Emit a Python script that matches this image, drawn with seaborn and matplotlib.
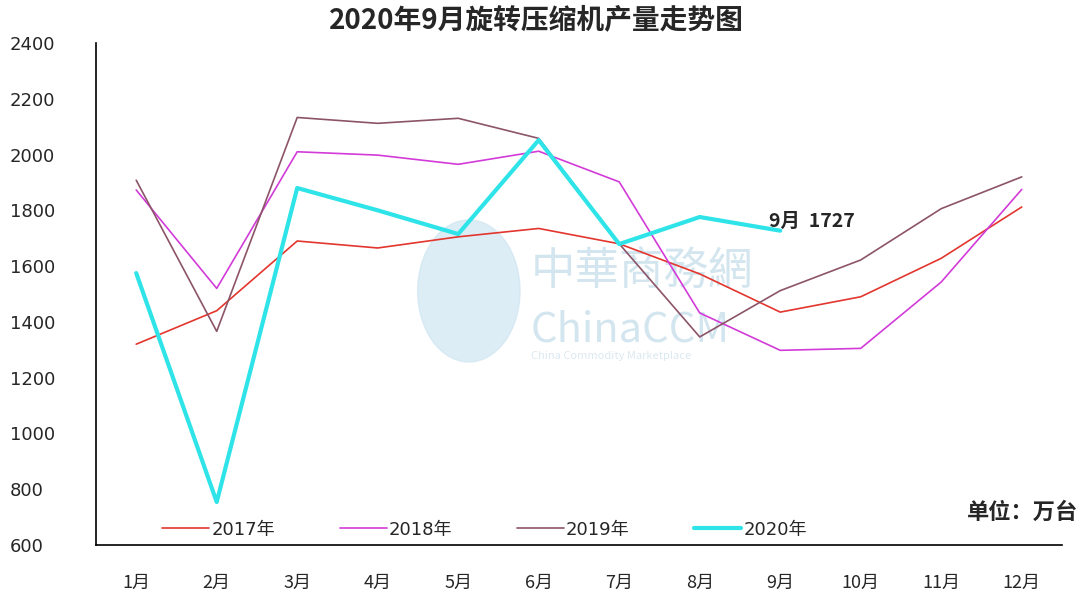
import pandas as pd
import matplotlib
matplotlib.use("Agg")
import matplotlib.pyplot as plt
from matplotlib.patches import Ellipse
import seaborn as sns

months = ["1月", "2月", "3月", "4月", "5月", "6月", "7月", "8月", "9月", "10月", "11月", "12月"]
y2017 = [1320, 1440, 1690, 1665, 1705, 1735, 1680, 1572, 1435, 1490, 1628, 1812]
y2018 = [1873, 1520, 2010, 1998, 1965, 2012, 1902, 1432, 1298, 1305, 1543, 1875]
y2019 = [1908, 1366, 2133, 2112, 2130, 2058, 1680, 1346, 1512, 1622, 1806, 1920]
y2020 = [1575, 754, 1880, 1800, 1715, 2052, 1679, 1776, 1727]
series_names = ["2017年", "2018年", "2019年", "2020年"]
colors = ["#E2362E", "#D23BD8", "#8C5468", "#2FE4E8"]
widths = [1.2, 1.2, 1.2, 3.0]

sns.set_style("white")
mixed = ['DejaVu Sans', 'Noto Sans CJK SC']
plt.rcParams['font.family'] = ['Noto Sans CJK SC', 'DejaVu Sans']

fig = plt.figure(figsize=(10.83, 5.99), dpi=100)
ax = fig.add_axes([0.0886, 0.0902, 0.892, 0.838])

# faint watermark
ax.add_patch(Ellipse((0.386, 0.506), 0.106, 0.283, transform=ax.transAxes,
                     color="#cfe6f2", alpha=0.7, zorder=0))
ax.text(0.45, 0.52, "中華商務網", transform=ax.transAxes, fontsize=32,
        color="#d3e5ee", zorder=0)
ax.text(0.45, 0.405, "ChinaCCM", transform=ax.transAxes, fontsize=30,
        color="#d3e5ee", zorder=0)
ax.text(0.45, 0.37, "China Commodity Marketplace", transform=ax.transAxes, fontsize=8,
        color="#dbe9f0", zorder=0)

all_series = [y2017, y2018, y2019, y2020]
for name, vals, c, lw in zip(series_names, all_series, colors, widths):
    df = pd.DataFrame({"x": list(range(len(vals))), "v": vals})
    sns.lineplot(data=df, x="x", y="v", ax=ax, color=c, linewidth=lw, label=name, zorder=3)

ax.set_xlim(-0.5, 11.5)
ax.set_ylim(600, 2400)
ax.set_yticks(range(600, 2401, 200))
ax.set_xticks(range(12))
ax.set_xticklabels(months)
ax.set_xticks([i + 0.5 for i in range(-1, 12)], minor=True)
ax.tick_params(axis="x", which="major", length=0, pad=21, labelsize=13)
ax.tick_params(axis="x", which="minor", direction="in", length=5, color="black")
ax.tick_params(axis="y", direction="in", length=5, labelsize=13, pad=62, color="black")
for lab in ax.get_yticklabels():
    lab.set_horizontalalignment("left")
    lab.set_family(mixed)
ax.set_xlabel("")
ax.set_ylabel("")
for side in ["top", "right"]:
    ax.spines[side].set_visible(False)
for side in ["left", "bottom"]:
    ax.spines[side].set_color("black")
    ax.spines[side].set_linewidth(1.2)

leg = ax.legend(loc="lower left", bbox_to_anchor=(0.052, -0.02), ncol=4, frameon=False,
                prop={"family": mixed, "size": 13}, handlelength=2.6,
                columnspacing=3.6, handletextpad=0.1)

ax.annotate("9月  1727", xy=(8, y2020[8]), xytext=(-8, 7), textcoords="offset points",
            fontsize=14, fontweight="bold", ha="left", va="center")
ax.text(1.017, 0.065, "单位：万台", transform=ax.transAxes, fontsize=16, fontweight="bold",
        ha="right", va="center")

fig.suptitle("2020年9月旋转压缩机产量走势图", x=0.495, y=0.99, fontsize=20, fontweight="bold")

fig.savefig("out.png", dpi=100)
